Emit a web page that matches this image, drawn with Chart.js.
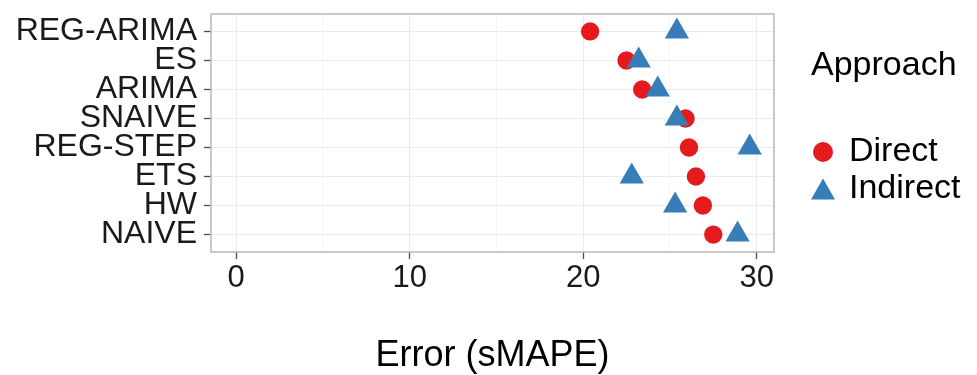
<!DOCTYPE html>
<html lang="en">
<head>
<meta charset="UTF-8">
<title>Error (sMAPE) by method</title>
<script src="https://cdn.jsdelivr.net/npm/chart.js"></script>
<style>
  body { margin: 0; background: #fff; }
  .wrap { width: 977px; height: 375px; }
</style>
</head>
<body>
<div class="wrap"><canvas id="chart"></canvas></div>
<script>
// methods, listed top to bottom
const methods = ['REG-ARIMA', 'ES', 'ARIMA', 'SNAIVE', 'REG-STEP', 'ETS', 'HW', 'NAIVE'];
const direct = [20.4, 22.5, 23.4, 25.9, 26.1, 26.5, 26.9, 27.5];
const indirect = [25.4, 23.2, 24.3, 25.4, 29.6, 22.8, 25.3, 28.9];
const xTicks = [0, 5, 10, 15, 20, 25, 30];
const xLabelled = [0, 10, 20, 30];

const red = '#E41A1C';
const blue = '#377EB8';
const family = '"Liberation Sans", Arial, Helvetica, sans-serif';

// legend icons (ggplot draws circle and triangle at different sizes)
function icon(shape, color) {
  const c = document.createElement('canvas');
  c.width = 28;
  c.height = 26;
  const g = c.getContext('2d');
  g.fillStyle = color;
  g.beginPath();
  if (shape === 'circle') {
    g.arc(14, 13, 10, 0, Math.PI * 2);
  } else {
    g.moveTo(14, 2.6);
    g.lineTo(26, 23.4);
    g.lineTo(2, 23.4);
    g.closePath();
  }
  g.fill();
  return c;
}
const icons = [icon('circle', red), icon('triangle', blue)];

// grey frame round the panel
const panelBorder = {
  id: 'panelBorder',
  beforeDatasetsDraw(chart) {
    const { ctx, chartArea: a } = chart;
    ctx.save();
    ctx.strokeStyle = '#b8b8b8';
    ctx.lineWidth = 1.5;
    ctx.strokeRect(a.left, a.top, a.right - a.left, a.bottom - a.top);
    ctx.restore();
  }
};

// vertical axes should not push the panel edges
function noPad(s) {
  s.paddingTop = 0;
  s.paddingBottom = 0;
}

new Chart(document.getElementById('chart'), {
  type: 'scatter',
  data: {
    datasets: [
      {
        label: 'Direct',
        data: direct.map((v, i) => ({ x: v, y: i })),
        pointStyle: 'circle',
        pointRadius: 9.2,
        pointBackgroundColor: red,
        pointBorderWidth: 0,
        order: 1
      },
      {
        label: 'Indirect',
        data: indirect.map((v, i) => ({ x: v, y: i })),
        pointStyle: 'triangle',
        pointRadius: 14,
        pointBackgroundColor: blue,
        pointBorderWidth: 0,
        order: 0
      }
    ]
  },
  options: {
    responsive: true,
    maintainAspectRatio: false,
    animation: false,
    events: [],
    layout: { padding: { top: 10, right: 16, bottom: 0, left: 0 } },
    scales: {
      x: {
        type: 'linear',
        min: -1.45,
        max: 31,
        afterBuildTicks: s => { s.ticks = xTicks.map(v => ({ value: v })); },
        afterFit: s => { s.height = 123; },
        grid: {
          color: c => (c.tick && xLabelled.includes(c.tick.value)) ? '#ebebeb' : '#f6f6f6',
          tickLength: 7,
          tickWidth: 1.3,
          tickColor: c => (c.tick && xLabelled.includes(c.tick.value)) ? '#4d4d4d' : 'rgba(0,0,0,0)'
        },
        border: { display: false },
        ticks: {
          autoSkip: false,
          maxRotation: 0,
          padding: 4,
          color: '#1a1a1a',
          font: { family: family, size: 31, lineHeight: 1 },
          callback: v => xLabelled.includes(v) ? String(v) : ''
        },
        title: {
          display: true,
          text: 'Error (sMAPE)',
          color: '#000',
          font: { family: family, size: 36, lineHeight: 1 },
          padding: { top: 0, bottom: 1 }
        }
      },
      y: {
        type: 'linear',
        min: -0.6,
        max: 7.6,
        reverse: true,
        afterBuildTicks: s => { s.ticks = methods.map((m, i) => ({ value: i })); },
        afterFit: s => { s.width = 211; noPad(s); },
        grid: { color: '#ebebeb', tickLength: 7, tickWidth: 1.3, tickColor: '#4d4d4d' },
        border: { display: false },
        ticks: {
          autoSkip: false,
          padding: 7,
          color: '#1a1a1a',
          font: { family: family, size: 32 },
          callback: v => methods[v]
        }
      },
      // spacer between panel and legend
      y2: {
        type: 'linear',
        position: 'right',
        grid: { display: false },
        border: { display: false },
        ticks: { display: false },
        afterFit: s => { s.width = 37; noPad(s); }
      }
    },
    plugins: {
      tooltip: { enabled: false },
      legend: {
        position: 'right',
        align: 'start',
        maxWidth: 150,
        title: {
          display: true,
          text: 'Approach',
          position: 'start',
          color: '#000',
          font: { family: family, size: 34 },
          padding: { top: 39, bottom: 42.2 }
        },
        labels: {
          usePointStyle: true,
          pointStyleWidth: 18,
          boxHeight: 34,
          padding: 3,
          color: '#000',
          font: { family: family, size: 34 },
          sort: (a, b) => a.datasetIndex - b.datasetIndex,
          generateLabels(chart) {
            const items = Chart.defaults.plugins.legend.labels.generateLabels(chart);
            items.forEach(it => { it.pointStyle = icons[it.datasetIndex]; });
            return items;
          }
        }
      }
    }
  },
  plugins: [panelBorder]
});
</script>
</body>
</html>
